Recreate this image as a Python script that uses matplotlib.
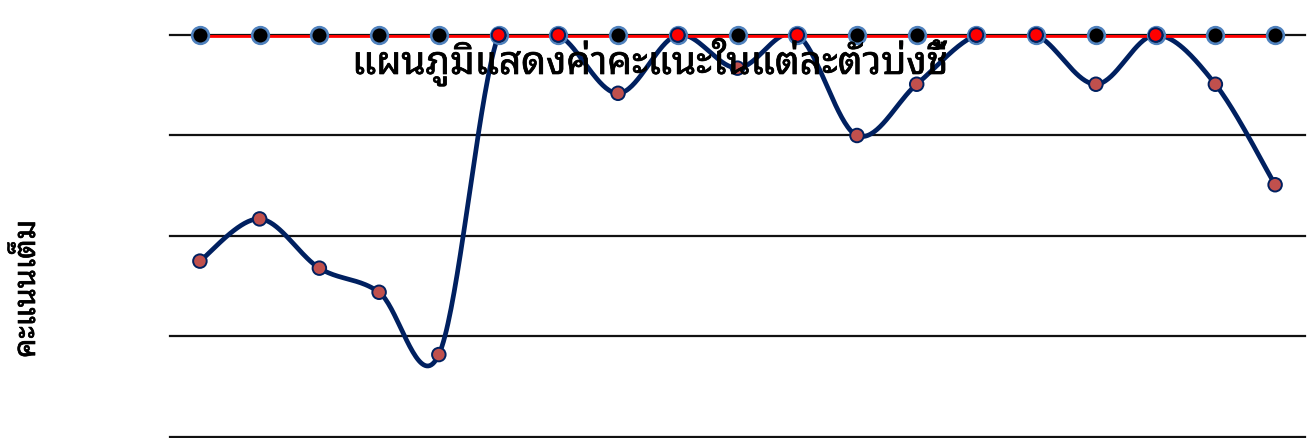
import matplotlib
matplotlib.use('Agg')
import matplotlib.pyplot as plt
import matplotlib.patheffects as pe
import numpy as np

plt.rcParams['font.family'] = ['Noto Sans Thai Looped', 'Sarabun', 'DejaVu Sans']

# ---- data ----
indicators = [f"ตัวบ่งชี้ {i}" for i in range(1, 20)]
scores = [2.75, 3.17, 2.68, 2.44, 1.82, 5.0, 5.0, 4.42, 5.0, 4.67,
          5.0, 4.0, 4.51, 5.0, 5.0, 4.51, 5.0, 4.51, 3.51]
full_score = [5.0] * 19
title_text = "แผนภูมิแสดงค่าคะแนะในแต่ละตัวบ่งชี้"
ylabel_text = "คะแนนเต็ม"
y_min, y_max = 1, 5

# ---- smoothing (Catmull-Rom / Bezier as in office charts) ----
def smooth(xs, ys, n=40):
    xs = np.asarray(xs, float); ys = np.asarray(ys, float)
    P = np.column_stack([xs, ys])
    out = []
    for i in range(len(P) - 1):
        p0 = P[i - 1] if i > 0 else P[i]
        p1 = P[i]; p2 = P[i + 1]
        p3 = P[i + 2] if i + 2 < len(P) else P[i + 1]
        c1 = p1 + (p2 - p0) / 6.0
        c2 = p2 - (p3 - p1) / 6.0
        t = np.linspace(0, 1, n)[:, None]
        seg = ((1 - t) ** 3) * p1 + 3 * ((1 - t) ** 2) * t * c1 + 3 * (1 - t) * t ** 2 * c2 + t ** 3 * p2
        out.append(seg if i == 0 else seg[1:])
    out = np.vstack(out)
    return out[:, 0], out[:, 1]

x = np.arange(len(indicators))

fig = plt.figure(figsize=(13.11, 4.38), dpi=100)
ax = fig.add_axes([0.1297, 0.0023, 0.8657, 0.9178])
ax.set_xlim(-0.5, len(indicators) - 0.5)
ax.set_ylim(y_min, y_max)

for v in range(y_min, y_max + 1):
    ax.axhline(v, color='#111111', lw=1.6, zorder=1, clip_on=False)

sx, sy = smooth(x, scores)
ax.plot(sx, sy, color='#002060', lw=3.4, zorder=2, solid_capstyle='round')
ax.plot(x, full_score, color='#FF0000', lw=3.4, zorder=3)
ax.plot(x, full_score, 'o', ms=12, mfc='black', mec='#4F81BD', mew=1.9,
        zorder=4, clip_on=False, ls='none')
face = ['#FF0000' if s >= y_max else '#C0504D' for s in scores]
ax.scatter(x, scores, s=95, c=face, edgecolors='#002060', linewidths=1.4,
           zorder=5, clip_on=False)

for sp in ax.spines.values():
    sp.set_visible(False)
ax.set_xticks([]); ax.set_yticks([])

bold = [pe.withStroke(linewidth=0.5, foreground='black')]
fig.text(352 / 1311, 1 - 62 / 438, title_text, ha='left', va='center',
         fontsize=28, fontweight='bold', zorder=10, path_effects=bold)
fig.text(27 / 1311, 1 - 358 / 438, ylabel_text, rotation=90, ha='center', va='bottom',
         fontsize=22, fontweight='bold', path_effects=bold)

fig.savefig('out.png', dpi=100)
